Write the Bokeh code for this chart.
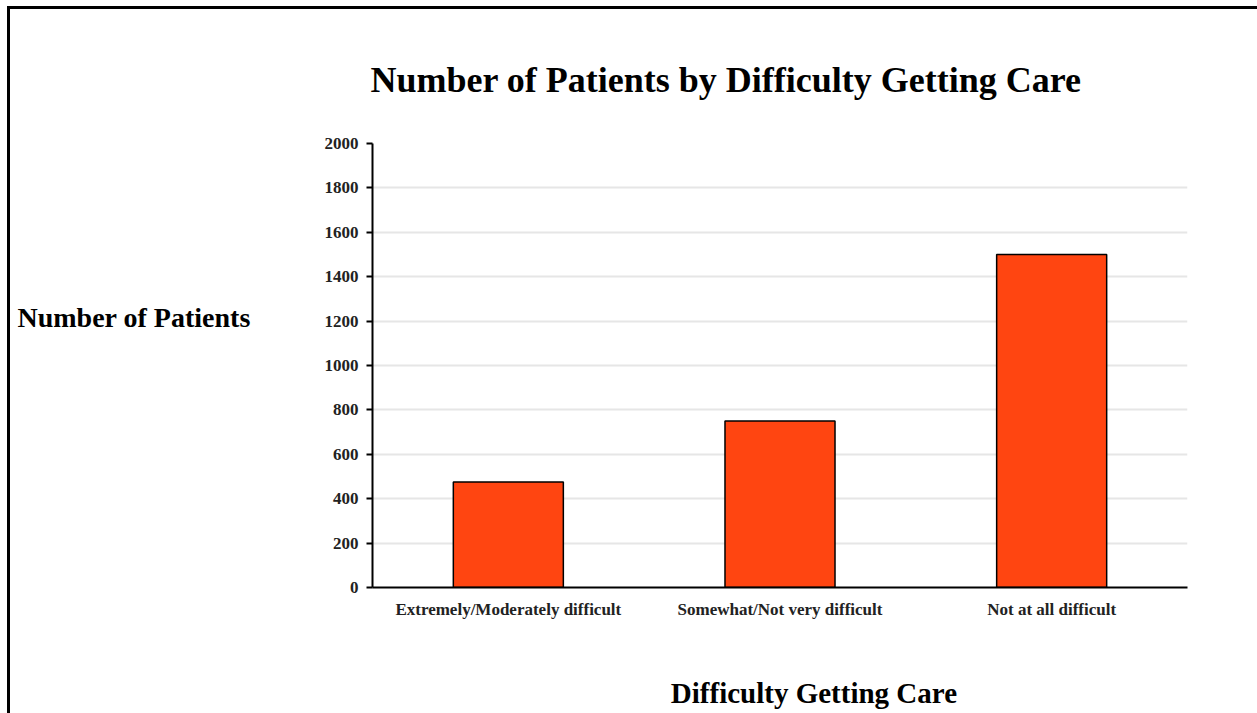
from bokeh.plotting import figure
from bokeh.models import Range1d, FactorRange, FixedTicker, ColumnDataSource
from bokeh.core.properties import value
from bokeh.layouts import row, column
from bokeh.embed import file_html
from bokeh.resources import INLINE

categories = ["Extremely/Moderately difficult", "Somewhat/Not very difficult", "Not at all difficult"]
patients = [475, 750, 1500]
y_ticks = [0, 200, 400, 600, 800, 1000, 1200, 1400, 1600, 1800, 2000]
title_text = "Number of Patients by Difficulty Getting Care"
x_title = "Difficulty Getting Care"
y_title = "Number of Patients"

W, H = 1257, 713
OX, OY = 10, 9            # content origin inside the page frame
LW = 250                  # width of the left label strip
XB = 640                  # page y where the bottom label strip starts
FL, FR, FT, FB = 372, 1187, 143, 587  # frame edges in page px
YMAX = 2000
font = "Liberation Serif"

CH = H - OY
MW = W - OX - LW

# ---- left strip with the horizontal y-axis title
lab = figure(width=LW, height=CH, x_range=Range1d(0, LW), y_range=Range1d(CH, 0),
             output_backend="svg", toolbar_location=None, min_border=0)
lab.axis.visible = False
lab.grid.visible = False
lab.outline_line_color = None
lab.text(x=[17 - OX], y=[317 - OY], text=[y_title], text_font=value(font), text_font_style="bold",
         text_font_size="28px", text_align="left", text_baseline="middle", text_color="black")

# ---- main chart
PH = XB - OY
p = figure(x_range=FactorRange(*categories, range_padding=0), y_range=Range1d(0, YMAX),
           width=MW, height=PH, output_backend="svg", toolbar_location=None,
           min_border_left=FL - OX - LW, min_border_right=W - FR,
           min_border_top=FT - OY, min_border_bottom=XB - FB,
           title=title_text)
p.outline_line_color = None
p.background_fill_color = "white"
p.border_fill_color = "white"

src = ColumnDataSource(dict(cat=categories, val=patients))
p.vbar(x="cat", top="val", width=0.405, source=src, fill_color="#FF4511",
       line_color="black", line_width=1.5)

p.title.text_font = font
p.title.text_font_style = "bold"
p.title.text_font_size = "36px"
p.title.text_color = "black"
p.title.align = "left"
p.title.offset = -2
p.title.standoff = 88

p.yaxis.ticker = FixedTicker(ticks=y_ticks)
p.yaxis.major_label_text_font = font
p.yaxis.major_label_text_font_style = "bold"
p.yaxis.major_label_text_font_size = "17px"
p.yaxis.major_label_text_color = "#222222"
p.yaxis.major_tick_out = 6
p.yaxis.major_tick_in = 0
p.yaxis.minor_tick_line_color = None
p.yaxis.axis_line_width = 2
p.yaxis.major_tick_line_width = 2
p.yaxis.major_label_standoff = 8

p.xaxis.major_label_text_font = font
p.xaxis.major_label_text_font_style = "bold"
p.xaxis.major_label_text_font_size = "17px"
p.xaxis.major_label_text_color = "#222222"
p.xaxis.major_tick_line_color = None
p.xaxis.major_tick_out = 0
p.xaxis.major_tick_in = 0
p.xaxis.axis_line_width = 2
p.xaxis.major_label_standoff = 12

p.xgrid.grid_line_color = None
p.ygrid.grid_line_color = "#e6e6e6"
p.ygrid.grid_line_width = 2
p.ygrid.ticker = FixedTicker(ticks=y_ticks)

# ---- bottom strip with the x-axis title
XH = H - XB
xs = figure(width=MW, height=XH, x_range=Range1d(0, MW), y_range=Range1d(XH, 0),
            output_backend="svg", toolbar_location=None, min_border=0,
            x_axis_location=None, y_axis_location=None)
xs.title = None
xs.grid.visible = False
xs.outline_line_color = None
xs.text(x=[800 - OX - LW], y=[692 - XB], text=[x_title], text_font=value(font), text_font_style="bold",
        text_font_size="29px", text_align="center", text_baseline="middle", text_color="black")

layout = row(lab, column(p, xs, spacing=0), spacing=0)
layout.styles = {"border-top": "3px solid black", "border-left": "3px solid black",
                 "margin-left": "7px", "margin-top": "6px"}

open("out.html", "w").write(file_html(layout, INLINE))
